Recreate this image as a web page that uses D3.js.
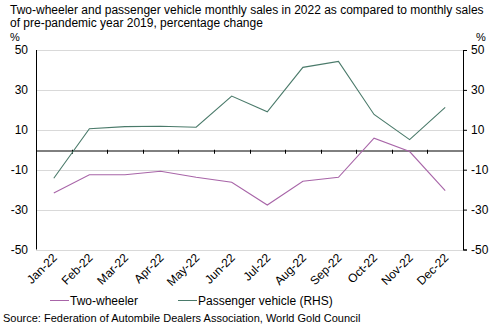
<!DOCTYPE html>
<html>
<head>
<meta charset="utf-8">
<script src="https://cdn.jsdelivr.net/npm/d3@7"></script>
<style>
body { margin: 0; background: #fff; }
text { font-family: "Liberation Sans", Arial, sans-serif; fill: #000; }
</style>
</head>
<body>
<svg id="chart" width="492" height="331"></svg>
<script>
// months on the x axis
var months = ["Jan-22","Feb-22","Mar-22","Apr-22","May-22","Jun-22","Jul-22","Aug-22","Sep-22","Oct-22","Nov-22","Dec-22"];

// % change vs same month of 2019
var greenSeries = [-14.3, 10.5, 11.6, 11.8, 11.3, 26.9, 19.0, 41.3, 44.3, 17.7, 5.1, 21.2];
var purpleSeries = [-21.7, -12.5, -12.5, -10.8, -13.8, -16.3, -27.7, -15.8, -13.8, 5.8, -0.9, -20.5];

var yTicks = [50, 30, 10, -10, -30, -50];
var legendNames = ["Two-wheeler", "Passenger vehicle (RHS)"];

var greenCol = "#4a7a6a";
var purpleCol = "#a865a8";

var svg = d3.select("#chart");
// note: "top" is taken by window.top, so plot edges get their own names
var pL = 36, pR = 463, pT = 50, pB = 249.5;

var x = d3.scaleBand().domain(months).range([pL, pR]);
var y = d3.scaleLinear().domain([-50, 50]).range([pB, pT]);

// plain hyphen for negatives, like the original
var fmt = function(d) { return String(d); };

// title
svg.append("text").attr("x", 10).attr("y", 14).style("font-size", "12px")
    .text("Two-wheeler and passenger vehicle monthly sales in 2022 as compared to monthly sales");
svg.append("text").attr("x", 10).attr("y", 27).style("font-size", "12px")
    .text("of pre-pandemic year 2019, percentage change");
svg.append("text").attr("x", 10).attr("y", 41).style("font-size", "11px").text("%");
svg.append("text").attr("x", 476).attr("y", 41).style("font-size", "11px").text("%");

// gridlines
svg.append("g").selectAll("line").data(yTicks).enter().append("line")
    .attr("x1", pL).attr("x2", pR)
    .attr("y1", function(d) { return Math.round(y(d)) + 0.5; })
    .attr("y2", function(d) { return Math.round(y(d)) + 0.5; })
    .attr("stroke", "#d9d9d9").attr("stroke-width", 1);

// left + right axes
var yl = svg.append("g").attr("transform", "translate(" + pL + ",0)")
    .call(d3.axisLeft(y).tickValues(yTicks).tickFormat(fmt).tickSize(0).tickPadding(8));
var yr = svg.append("g").attr("transform", "translate(" + pR + ",0)")
    .call(d3.axisRight(y).tickValues(yTicks).tickFormat(fmt).tickSize(4).tickPadding(4));
[yl, yr].forEach(function(g) {
    g.select(".domain").attr("stroke", "#000");
    g.selectAll("line").attr("stroke", "#000");
    g.selectAll("text").style("font-size", "12px").attr("font-family", null);
});
yl.select(".domain").remove();
svg.append("line").attr("x1", pL + 0.5).attr("x2", pL + 0.5)
    .attr("y1", pT).attr("y2", pB).attr("stroke", "#000");

// zero line with ticks between months
var xa = svg.append("g").attr("transform", "translate(0," + (Math.round(y(0)) + 0.5) + ")")
    .call(d3.axisBottom(x).tickSize(0).tickFormat(""));
xa.select(".domain").attr("stroke", "#000");
xa.selectAll(".tick").remove();
svg.append("g").selectAll("line").data(months.slice(1)).enter().append("line")
    .attr("x1", function(d) { return Math.round(x(d)) + 0.5; })
    .attr("x2", function(d) { return Math.round(x(d)) + 0.5; })
    .attr("y1", y(0)).attr("y2", y(0) + 4).attr("stroke", "#000");

// month labels
svg.append("g").selectAll("text").data(months).enter().append("text")
    .attr("transform", function(d) {
        return "translate(" + (x(d) + x.bandwidth() / 2 + 4) + "," + (pB + 9) + ") rotate(-45)";
    })
    .attr("text-anchor", "end").style("font-size", "12px")
    .text(function(d) { return d; });

// lines
var line = d3.line()
    .x(function(d, i) { return x(months[i]) + x.bandwidth() / 2; })
    .y(function(d) { return y(d); });
svg.append("path").datum(greenSeries).attr("d", line)
    .attr("fill", "none").attr("stroke", greenCol).attr("stroke-width", 1.1);
svg.append("path").datum(purpleSeries).attr("d", line)
    .attr("fill", "none").attr("stroke", purpleCol).attr("stroke-width", 1.1);

// legend
var lg = svg.append("g");
var legX = [50, 178], legCol = [purpleCol, greenCol];
legendNames.forEach(function(n, i) {
    lg.append("line").attr("x1", legX[i]).attr("x2", legX[i] + 19)
        .attr("y1", 300.5).attr("y2", 300.5).attr("stroke", legCol[i]);
    lg.append("text").attr("x", legX[i] + 20).attr("y", 305)
        .style("font-size", "12px").text(n);
});

svg.append("text").attr("x", 3).attr("y", 322).style("font-size", "11px")
    .text("Source: Federation of Autombile Dealers Association, World Gold Council");
</script>
</body>
</html>
